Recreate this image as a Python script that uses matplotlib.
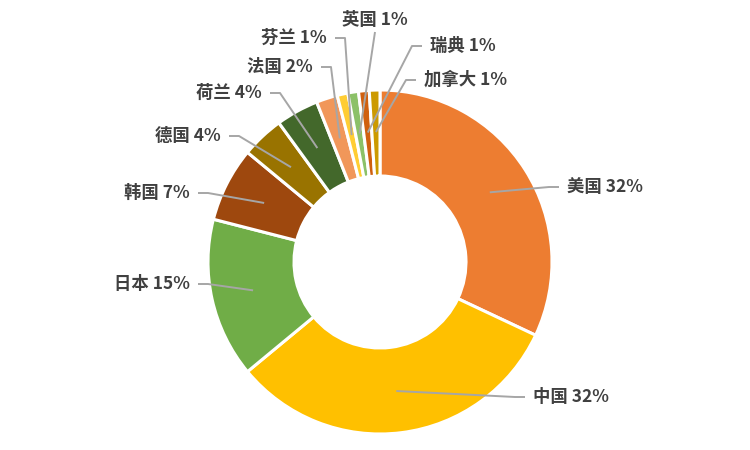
import numpy as np
import matplotlib
matplotlib.use("Agg")
import matplotlib.pyplot as plt

plt.rcParams['font.family'] = ['Noto Sans CJK SC', 'DejaVu Sans']

# =========================
# DATA
# =========================
countries = ["美国", "中国", "日本", "韩国", "德国", "荷兰", "法国", "芬兰", "英国", "瑞典", "加拿大"]
shares = [32, 32, 15, 7, 4, 4, 2, 1, 1, 1, 1]
colors = ["#ED7D31", "#FFC000", "#70AD47", "#9E480E", "#997300", "#43682B",
          "#F1975A", "#FFCD33", "#8CC168", "#D0600F", "#CC9A00"]

# label text anchors in figure pixels (x, y from top) and alignment
label_px = [(567, 187, "left"), (533, 397, "left"), (190, 284, "right"),
            (190, 193, "right"), (221, 136, "right"), (262, 93, "right"),
            (313, 67, "right"), (327, 38, "right"), (375, 20, "center"),
            (430, 46, "left"), (424, 80, "left")]

W, H = 750, 450
CX, CY, R = 380, 262, 172


def to_data(px, py):
    return (px - CX) / R, (CY - py) / R


fig = plt.figure(figsize=(W / 100, H / 100), dpi=100)
ax = fig.add_axes([0, 0, 1, 1])

wedges, _ = ax.pie(shares, startangle=90, counterclock=False, colors=colors,
                   radius=1.0,
                   wedgeprops=dict(width=0.5, edgecolor="white", linewidth=2.2))

ax.set_xlim(-CX / R, (W - CX) / R)
ax.set_ylim(-(H - CY) / R, CY / R)
ax.set_aspect("auto")
ax.axis("off")

total = float(sum(shares))
cum = np.cumsum([0] + shares)
for i, (name, val) in enumerate(zip(countries, shares)):
    mid = (cum[i] + val / 2) / total * 2 * np.pi
    ix, iy = 0.756 * np.sin(mid), 0.756 * np.cos(mid)
    px, py, ha = label_px[i]
    tx, ty = to_data(px, py)
    if ha == "left":
        ex, ey = tx - 8 / R, ty
        hx = ex - 10 / R
    elif ha == "right":
        ex, ey = tx + 8 / R, ty
        hx = ex + 10 / R
    else:
        ex, ey = tx, ty - 12 / R
        hx = ex
    ax.plot([ex, hx, ix], [ey, ey, iy], color="#A6A6A6", lw=1.4,
            solid_capstyle="butt", zorder=3)
    ax.text(tx, ty, f"{name} {val}%", ha=ha, va="center", fontsize=12.5,
            fontweight="bold", color="#404040", zorder=4)

fig.savefig("out.png", dpi=100)
